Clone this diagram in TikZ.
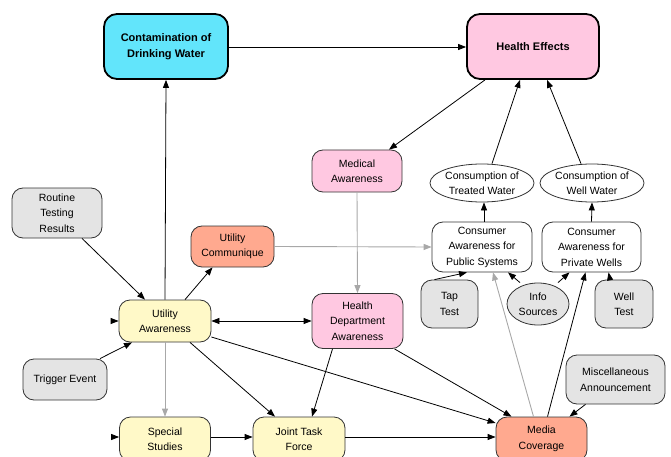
\documentclass[tikz,border=0pt]{standalone}
\usepackage{fontspec}
\setmainfont{Liberation Sans}
\usetikzlibrary{arrows.meta,shapes.geometric,calc}
\definecolor{ccyan}{HTML}{62E5FB}
\definecolor{cpink}{HTML}{FFC8E1}
\definecolor{cyel}{HTML}{FFF9C8}
\definecolor{csal}{HTML}{FFA98F}
\definecolor{cgray}{HTML}{E4E4E4}
\definecolor{cline}{HTML}{333333}
\definecolor{cgline}{HTML}{A8A8A8}
\tikzset{
  box/.style={draw=cline, line width=0.8pt, rounded corners=11pt, align=center, inner sep=1pt,
    font=\fontsize{10.5}{15.5}\selectfont},
  bigbox/.style={draw=black, line width=1.8pt, rounded corners=13pt, align=center, inner sep=1pt,
    font=\fontsize{11}{16}\selectfont\bfseries},
  ell/.style={draw=cline, line width=0.8pt, ellipse, align=center, inner sep=0pt,
    font=\fontsize{10.5}{15.5}\selectfont},
  arr/.style={draw=black, line width=0.8pt, -{Triangle[length=8pt,width=6pt]}},
  garr/.style={draw=cgline, line width=0.9pt, -{Triangle[length=8pt,width=6pt]}},
  darr/.style={draw=black, line width=0.8pt, {Triangle[length=8pt,width=6pt]}-{Triangle[length=8pt,width=6pt]}},
}
\begin{document}
\begin{tikzpicture}[x=1pt,y=-1pt]
\useasboundingbox (0,0) rectangle (671,457);
\clip (0,0) rectangle (671,457);
% nodes
\node[bigbox, fill=ccyan, minimum width=124pt, minimum height=65pt] (CDW) at (166,46.5) {Contamination of\\Drinking Water};
\node[bigbox, fill=cpink, minimum width=132pt, minimum height=65pt] (HE) at (533,46.5) {Health Effects};
\node[box, fill=cgray, minimum width=90pt, minimum height=50pt] (RTR) at (57,213) {Routine\\Testing\\Results};
\node[box, fill=csal, minimum width=83pt, minimum height=41pt] (UC) at (232.5,246.5) {Utility\\Communique};
\node[box, fill=cyel, minimum width=92pt, minimum height=42pt] (UA) at (165,321) {Utility\\Awareness};
\node[box, fill=cgray, minimum width=84pt, minimum height=41pt] (TE) at (65,379.5) {Trigger Event};
\node[box, fill=cyel, minimum width=91pt, minimum height=44pt] (SS) at (165,439) {Special\\Studies};
\node[box, fill=cyel, minimum width=92pt, minimum height=44pt] (JTF) at (299,439) {Joint Task\\Force};
\node[box, fill=csal, minimum width=91pt, minimum height=44pt] (MC) at (541.5,439) {Media\\Coverage};
\node[box, fill=cgray, minimum width=99pt, minimum height=49pt] (MISC) at (615.5,379.5) {Miscellaneous\\Announcement};
\node[box, fill=cpink, minimum width=91pt, minimum height=55pt] (HDA) at (357.5,321) {Health\\Department\\Awareness};
\node[box, fill=cpink, minimum width=90pt, minimum height=42pt] (MA) at (357,171) {Medical\\Awareness};
\node[ell, fill=white, minimum width=100pt, minimum height=38pt] (CTW) at (482,183) {Consumption of\\Treated Water};
\node[ell, fill=white, minimum width=100pt, minimum height=38pt] (CWW) at (592,183) {Consumption of\\Well Water};
\node[box, fill=white, minimum width=100pt, minimum height=50pt] (CAPS) at (482,247) {Consumer\\Awareness for\\Public Systems};
\node[box, fill=white, minimum width=99pt, minimum height=50pt] (CAPW) at (591.5,247) {Consumer\\Awareness for\\Private Wells};
\node[box, fill=cgray, minimum width=57pt, minimum height=48pt] (TAP) at (449.5,304) {Tap\\Test};
\node[ell, fill=cgray, minimum width=62pt, minimum height=42pt] (INFO) at (538,304) {Info\\Sources};
\node[box, fill=cgray, minimum width=58pt, minimum height=48pt] (WELL) at (624,304) {Well\\Test};
\coordinate (UAin) at (112,321);
\coordinate (SSin) at (112,437);
% edges
\draw[arr] (CDW.east |- 0,47) -- (HE.west |- 0,47);
\draw[arr] (UA.north) -- (CDW.south);
\draw[arr] ([xshift=-48pt]HE.south) -- ([xshift=32pt]MA.north);
\draw[arr] ([xshift=10pt]CTW.north) -- ([xshift=-13pt]HE.south);
\draw[arr] ([xshift=-11pt]CWW.north) -- ([xshift=14pt]HE.south);
\draw[arr] ([xshift=2pt]CAPS.north) -- ([xshift=2pt]CTW.south);
\draw[arr] (CAPW.north) -- (CWW.south);
\draw[garr] (MA.south) -- (HDA.north);
\draw[garr] (UC.east) -- (CAPS.west);
\draw[arr] ([xshift=25pt]RTR.south) -- ([xshift=-20pt]UA.north);
\draw[arr] ([xshift=20pt]UA.north) -- ([xshift=-20pt]UC.south);
\draw[arr] ([xshift=35pt]TE.north) -- ([xshift=-33pt]UA.south);
\draw[darr] (UA.east) -- (HDA.west);
\draw[garr] (UA.south) -- (SS.north);
\draw[arr] ([xshift=25pt]UA.south) -- ([xshift=-24pt]JTF.north);
\draw[arr] ([xshift=-25pt]HDA.south) -- ([xshift=13pt]JTF.north);
\draw[arr] (UA.east |- 0,337) -- (MC.west |- 0,423);
\draw[arr] ([xshift=37pt]HDA.south) -- ([xshift=-30pt]MC.north);
\draw[arr] (SS.east |- 0,437) -- (JTF.west |- 0,437);
\draw[arr] (JTF.east |- 0,437) -- (MC.west |- 0,437);
\draw[arr] ([xshift=-30pt]MISC.south) -- ([xshift=28pt]MC.north);
\draw[garr] ([xshift=-8pt]MC.north) -- ([xshift=11pt]CAPS.south);
\draw[arr] ([xshift=6pt]MC.north) -- ([xshift=-6pt]CAPW.south);
\draw[arr] ([xshift=-18pt]INFO.north) -- ([xshift=26pt]CAPS.south);
\draw[arr] ([xshift=20pt]INFO.north) -- ([xshift=-22pt]CAPW.south);
\draw[arr] ([xshift=-15pt]TAP.north) -- ([xshift=-15pt]CAPS.south);
\draw[arr] ([xshift=-14pt]WELL.north) -- ([xshift=17pt]CAPW.south);
\draw[arr] (UAin) -- (UA.west);
\draw[arr] (SSin) -- (SS.west |- 0,437);
\end{tikzpicture}
\end{document}
